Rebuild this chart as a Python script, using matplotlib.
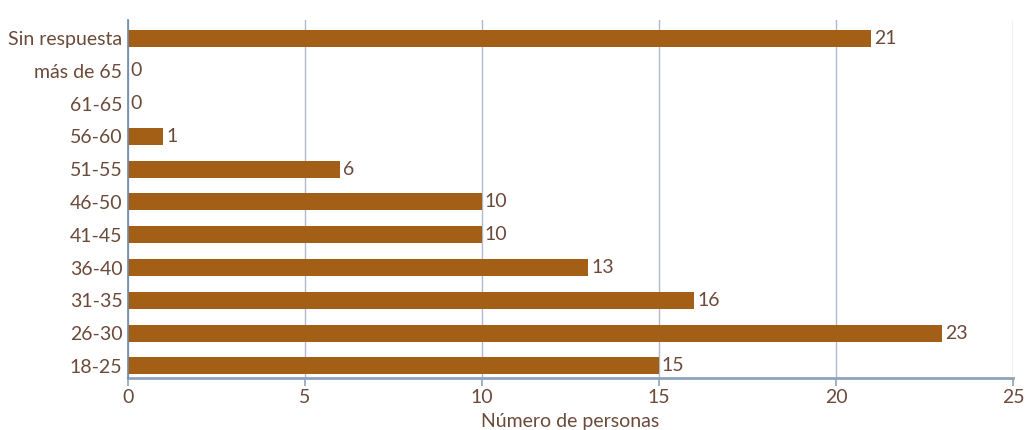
import matplotlib.pyplot as plt

# age groups, bottom to top as drawn
categories = ["18-25", "26-30", "31-35", "36-40", "41-45", "46-50",
              "51-55", "56-60", "61-65", "más de 65", "Sin respuesta"]
counts = [15, 23, 16, 13, 10, 10, 6, 1, 0, 0, 21]
xticks = [0, 5, 10, 15, 20, 25]

bar_color = "#A45F17"
text_color = "#6B4A3A"
axis_color = "#8FA3BC"
grid_color = "#AEB9D0"

plt.rcParams['font.family'] = ['Lato', 'DejaVu Sans']
fs = 14

fig = plt.figure(figsize=(10.26, 4.3), dpi=100)
ax = fig.add_axes([0.1248, 0.1209, 0.8625, 0.8326])

y = range(len(categories))
bars = ax.barh(y, counts, height=0.52, color=bar_color, zorder=3)
ax.bar_label(bars, labels=[str(c) for c in counts], padding=2,
             fontsize=fs, color=text_color)

ax.set_xlim(0, 25)
ax.set_ylim(-0.37, 10.55)
ax.set_xticks(xticks)
ax.set_yticks(list(y))
ax.set_yticklabels(categories)
ax.tick_params(axis='x', colors=axis_color, labelcolor=text_color,
               labelsize=fs, length=6, width=1.2, pad=2)
ax.tick_params(axis='y', length=0, pad=4, labelcolor=text_color, labelsize=fs)

ax.grid(axis='x', color=grid_color, linewidth=1, zorder=0)
for s in ["top", "right"]:
    ax.spines[s].set_visible(False)
ax.spines["left"].set_color("#6F89AA")
ax.spines["left"].set_linewidth(1.2)
ax.spines["bottom"].set_color(axis_color)
ax.spines["bottom"].set_linewidth(2)
ax.spines["left"].set_zorder(4)

ax.set_xlabel("Número de personas", fontsize=fs, color=text_color, labelpad=5)

fig.savefig("out.png", dpi=100)
